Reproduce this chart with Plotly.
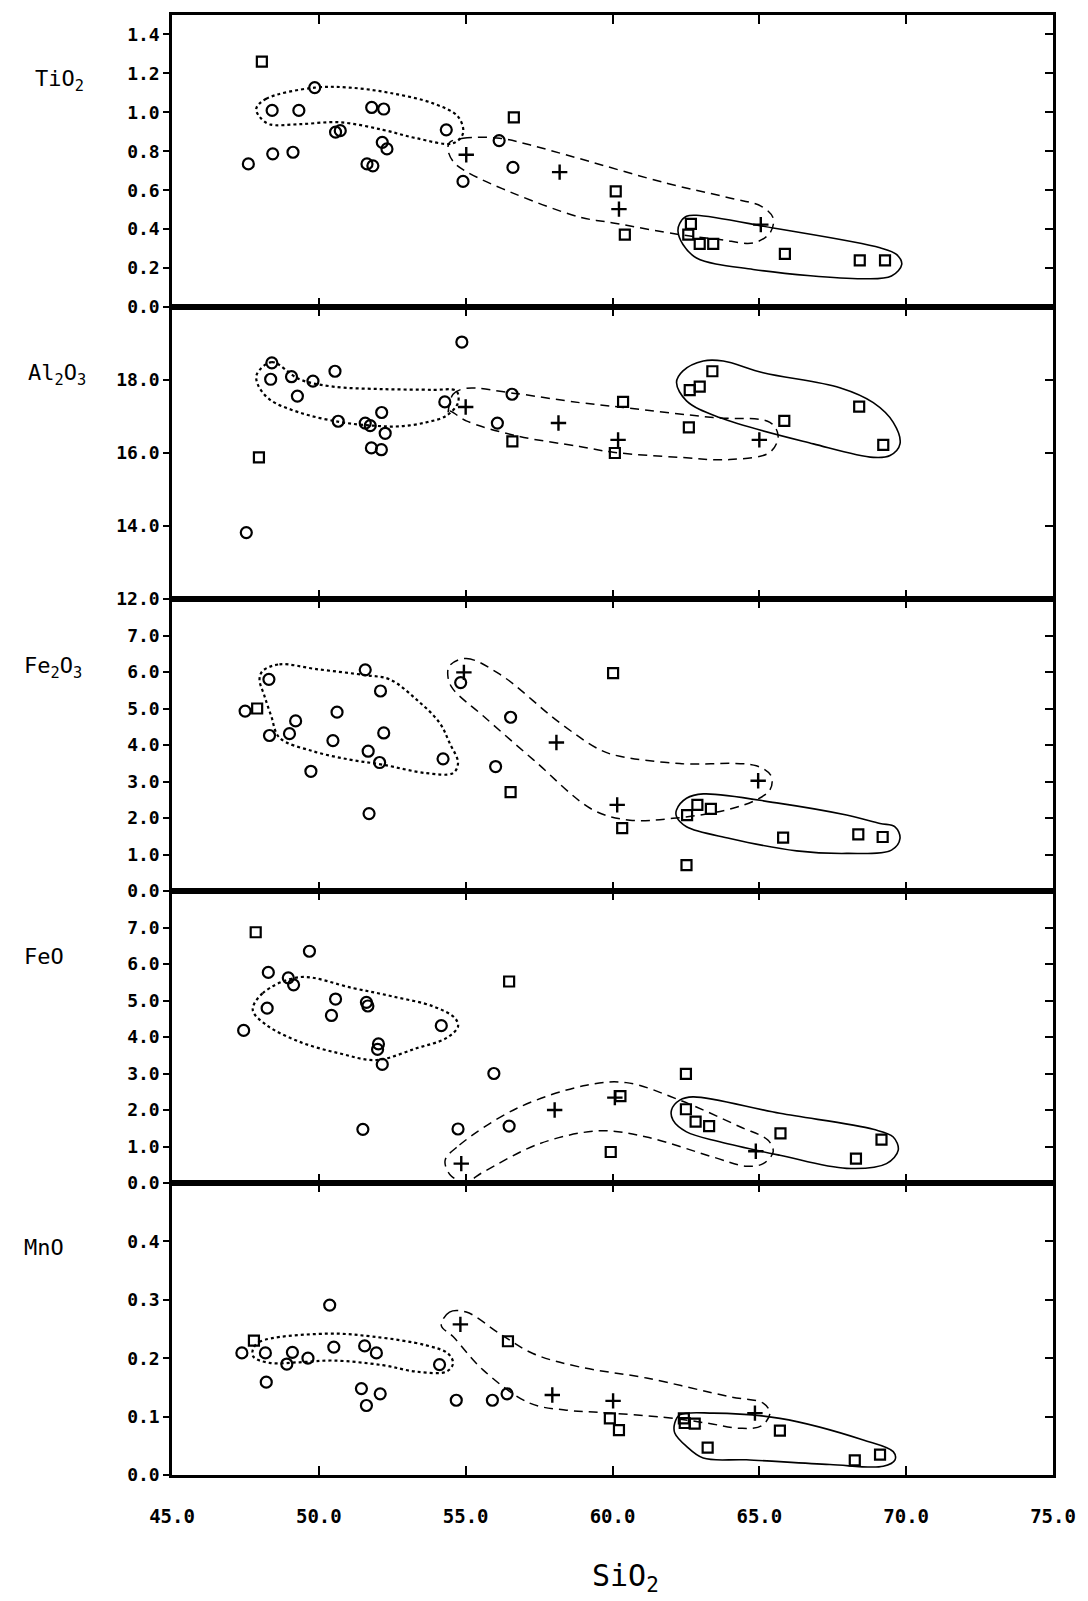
import plotly.graph_objects as go
from plotly.subplots import make_subplots

# ---------------- data (SiO2 on x, oxide on y) ----------------
SIO2_TICKS = [45, 50, 55, 60, 65, 70, 75]

# TiO2
TIO2_CIRC_X = [47.60, 48.41, 48.43, 49.12, 49.32, 49.86, 50.57, 50.73, 51.64, 51.80, 51.84, 52.16, 52.21, 52.32, 54.34, 54.91, 56.14, 56.61]
TIO2_CIRC_Y = [0.735, 1.01, 0.787, 0.795, 1.01, 1.127, 0.898, 0.906, 0.735, 1.025, 0.725, 0.846, 1.017, 0.812, 0.91, 0.645, 0.855, 0.717]
TIO2_SQ_X = [48.06, 56.64, 60.11, 60.42, 62.58, 62.67, 62.97, 63.43, 65.87, 68.42, 69.28]
TIO2_SQ_Y = [1.26, 0.974, 0.594, 0.372, 0.372, 0.427, 0.324, 0.324, 0.273, 0.239, 0.239]
TIO2_PLUS_X = [55.02, 58.20, 60.22, 65.05]
TIO2_PLUS_Y = [0.782, 0.693, 0.503, 0.423]

# Al2O3
AL2O3_CIRC_X = [47.53, 48.36, 48.40, 49.07, 49.27, 49.80, 50.55, 50.66, 51.58, 51.75, 51.79, 52.13, 52.14, 52.26, 54.29, 54.87, 56.08, 56.58]
AL2O3_CIRC_Y = [13.82, 18.02, 18.47, 18.09, 17.56, 17.97, 18.24, 16.87, 16.82, 16.75, 16.14, 16.09, 17.11, 16.54, 17.40, 19.04, 16.82, 17.61]
AL2O3_SQ_X = [47.96, 56.59, 60.08, 60.36, 62.60, 62.63, 62.97, 63.40, 65.85, 68.40, 69.22]
AL2O3_SQ_Y = [15.88, 16.32, 16.00, 17.40, 16.70, 17.72, 17.82, 18.24, 16.88, 17.27, 16.22]
AL2O3_PLUS_X = [55.00, 58.16, 60.19, 65.00]
AL2O3_PLUS_Y = [17.26, 16.82, 16.36, 16.36]

# Fe2O3
FE2O3_CIRC_X = [47.49, 48.30, 48.32, 49.00, 49.21, 49.73, 50.48, 50.62, 51.58, 51.68, 51.71, 52.07, 52.10, 52.21, 54.23, 54.83, 56.02, 56.53]
FE2O3_CIRC_Y = [4.93, 5.80, 4.26, 4.31, 4.66, 3.28, 4.12, 4.90, 6.06, 3.83, 2.12, 3.52, 5.48, 4.33, 3.62, 5.71, 3.41, 4.76]
FE2O3_SQ_X = [47.90, 56.53, 60.02, 60.33, 62.52, 62.54, 62.89, 63.35, 65.81, 68.37, 69.20]
FE2O3_SQ_Y = [5.00, 2.71, 5.97, 1.72, 0.71, 2.08, 2.36, 2.25, 1.46, 1.55, 1.48]
FE2O3_PLUS_X = [54.94, 58.09, 60.16, 64.96]
FE2O3_PLUS_Y = [5.99, 4.07, 2.36, 3.02]

# FeO
FEO_CIRC_X = [47.44, 48.24, 48.28, 48.96, 49.14, 49.68, 50.43, 50.57, 51.50, 51.62, 51.67, 52.00, 52.03, 52.16, 54.17, 54.74, 55.96, 56.48]
FEO_CIRC_Y = [4.18, 4.79, 5.77, 5.62, 5.43, 6.35, 4.59, 5.04, 1.47, 4.95, 4.85, 3.66, 3.81, 3.25, 4.31, 1.48, 3.00, 1.56]
FEO_SQ_X = [47.85, 56.48, 59.94, 60.27, 62.50, 62.50, 62.83, 63.29, 65.72, 68.29, 69.16]
FEO_SQ_Y = [6.87, 5.52, 0.85, 2.38, 2.99, 2.02, 1.68, 1.56, 1.36, 0.67, 1.19]
FEO_PLUS_X = [54.85, 58.03, 60.08, 64.88]
FEO_PLUS_Y = [0.53, 2.00, 2.34, 0.87]

# MnO
MNO_CIRC_X = [47.38, 48.18, 48.21, 48.91, 49.10, 49.63, 50.37, 50.51, 51.45, 51.56, 51.62, 51.96, 52.09, 54.11, 54.68, 55.91, 56.41]
MNO_CIRC_Y = [0.209, 0.209, 0.159, 0.190, 0.210, 0.200, 0.291, 0.219, 0.148, 0.221, 0.119, 0.209, 0.139, 0.189, 0.128, 0.128, 0.139]
MNO_SQ_X = [47.79, 56.44, 59.91, 60.22, 62.43, 62.46, 62.80, 63.24, 65.70, 68.25, 69.11]
MNO_SQ_Y = [0.230, 0.229, 0.097, 0.077, 0.097, 0.089, 0.088, 0.047, 0.076, 0.025, 0.035]
MNO_PLUS_X = [54.82, 57.95, 60.02, 64.85]
MNO_PLUS_Y = [0.258, 0.137, 0.127, 0.106]

# hand-drawn group envelopes (outline vertices, x = SiO2, y = oxide)
TIO2_DOT_X = [47.87, 48.21, 49.86, 51.05, 52.41, 53.89, 54.74, 54.91, 54.57, 53.32, 52.18, 50.71, 49.34, 48.32, 47.98]
TIO2_DOT_Y = [1.02, 1.07, 1.127, 1.127, 1.10, 1.046, 0.978, 0.893, 0.841, 0.867, 0.91, 0.949, 0.939, 0.939, 0.978]
TIO2_DASH_X = [54.45, 54.91, 56.16, 57.18, 58.88, 61.84, 63.99, 65.07, 65.47, 65.36, 64.79, 63.65, 62.29, 60.02, 58.88, 56.61, 55.02, 54.57, 54.40]
TIO2_DASH_Y = [0.845, 0.867, 0.867, 0.833, 0.762, 0.636, 0.56, 0.517, 0.457, 0.38, 0.329, 0.347, 0.372, 0.432, 0.462, 0.585, 0.696, 0.748, 0.807]
TIO2_SOLID_X = [62.52, 62.86, 65.47, 69.11, 69.67, 69.85, 69.50, 68.54, 64.79, 62.86, 62.40, 62.23, 62.29]
TIO2_SOLID_Y = [0.466, 0.471, 0.406, 0.304, 0.27, 0.219, 0.159, 0.145, 0.193, 0.252, 0.321, 0.389, 0.43]

AL2O3_DOT_X = [47.89, 48.40, 49.34, 50.48, 52.18, 53.89, 54.68, 54.74, 54.34, 53.66, 52.75, 51.84, 50.71, 49.34, 48.32, 47.92]
AL2O3_DOT_Y = [18.16, 18.49, 18.02, 17.82, 17.75, 17.73, 17.70, 17.38, 17.02, 16.84, 16.73, 16.75, 16.85, 17.11, 17.47, 17.88]
AL2O3_DASH_X = [54.40, 54.57, 55.02, 56.61, 58.88, 60.36, 63.43, 65.36, 65.64, 65.36, 63.99, 62.29, 60.02, 58.88, 56.73, 55.02, 54.45]
AL2O3_DASH_Y = [17.06, 17.61, 17.77, 17.64, 17.38, 17.25, 16.97, 16.84, 16.47, 16.02, 15.82, 15.88, 16.02, 16.18, 16.47, 16.88, 17.15]
AL2O3_SOLID_X = [62.18, 62.40, 63.09, 63.77, 65.13, 67.74, 68.88, 69.56, 69.79, 69.45, 68.88, 66.84, 63.65, 62.52]
AL2O3_SOLID_Y = [17.93, 18.25, 18.52, 18.52, 18.20, 17.79, 17.38, 16.84, 16.25, 15.93, 15.88, 16.25, 16.97, 17.43]

FE2O3_DOT_X = [48.09, 48.66, 49.91, 51.62, 52.41, 53.32, 54.11, 54.45, 54.74, 54.57, 53.66, 52.18, 51.05, 49.80, 48.66, 48.38, 48.15, 47.98]
FE2O3_DOT_Y = [6.03, 6.21, 6.08, 5.91, 5.80, 5.25, 4.61, 4.06, 3.51, 3.23, 3.23, 3.46, 3.60, 3.83, 4.20, 4.79, 5.34, 5.80]
FE2O3_DASH_X = [54.45, 55.02, 56.16, 58.20, 59.57, 60.25, 62.29, 64.90, 65.41, 65.36, 64.90, 63.88, 62.06, 60.59, 59.34, 57.30, 55.59, 54.57, 54.40]
FE2O3_DASH_Y = [6.17, 6.37, 5.94, 4.61, 3.87, 3.69, 3.49, 3.43, 3.14, 2.77, 2.50, 2.22, 1.99, 1.94, 2.22, 3.60, 4.80, 5.53, 5.85]
FE2O3_SOLID_X = [62.18, 62.52, 63.09, 65.70, 67.97, 69.11, 69.62, 69.79, 69.50, 67.97, 66.27, 64.00, 62.52, 62.18]
FE2O3_SOLID_Y = [2.22, 2.54, 2.66, 2.40, 2.08, 1.85, 1.76, 1.44, 1.12, 1.03, 1.10, 1.44, 1.76, 2.04]

FEO_DOT_X = [47.75, 48.09, 49.34, 51.16, 52.52, 53.89, 54.63, 54.74, 54.34, 53.32, 51.96, 50.71, 49.34, 48.21]
FEO_DOT_Y = [4.74, 5.20, 5.64, 5.34, 5.11, 4.84, 4.52, 4.29, 3.97, 3.69, 3.37, 3.55, 3.87, 4.33]
FEO_DASH_X = [54.30, 54.79, 56.73, 59.11, 60.47, 62.29, 64.34, 65.30, 65.47, 65.13, 64.56, 63.43, 61.16, 59.57, 57.52, 55.60, 55.00, 54.50]
FEO_DASH_Y = [0.62, 1.04, 2.04, 2.68, 2.75, 2.27, 1.54, 1.17, 0.85, 0.53, 0.46, 0.71, 1.26, 1.43, 1.08, 0.30, 0.03, 0.20]
FEO_SOLID_X = [62.01, 62.29, 62.74, 65.70, 68.88, 69.56, 69.73, 69.33, 67.97, 65.70, 63.65, 62.52, 62.06]
FEO_SOLID_Y = [2.00, 2.27, 2.36, 1.91, 1.47, 1.26, 0.90, 0.53, 0.40, 0.76, 1.13, 1.40, 1.72]

MNO_DOT_X = [47.75, 47.98, 50.25, 51.84, 53.66, 54.40, 54.57, 54.34, 53.32, 52.18, 50.48, 49.34, 48.32, 47.78]
MNO_DOT_Y = [0.214, 0.228, 0.242, 0.237, 0.222, 0.208, 0.191, 0.177, 0.177, 0.188, 0.196, 0.193, 0.192, 0.202]
MNO_DASH_X = [54.17, 54.45, 55.02, 56.16, 57.29, 58.88, 61.16, 63.99, 65.13, 65.36, 65.07, 64.34, 63.20, 61.72, 59.57, 58.43, 57.18, 55.59, 54.57]
MNO_DASH_Y = [0.256, 0.279, 0.279, 0.242, 0.208, 0.185, 0.166, 0.134, 0.123, 0.106, 0.084, 0.080, 0.089, 0.099, 0.107, 0.111, 0.123, 0.180, 0.237]
MNO_SOLID_X = [62.12, 62.29, 63.43, 65.70, 68.54, 69.56, 69.62, 69.22, 67.40, 64.56, 63.09, 62.52, 62.12]
MNO_SOLID_Y = [0.089, 0.103, 0.106, 0.097, 0.060, 0.040, 0.026, 0.015, 0.018, 0.026, 0.029, 0.049, 0.072]

# axis ranges / tick values
TIO2_RANGE, TIO2_TICKS = [0, 1.5], [0, 0.2, 0.4, 0.6, 0.8, 1.0, 1.2, 1.4]
AL2O3_RANGE, AL2O3_TICKS = [12, 20], [12, 14, 16, 18]
FE2O3_RANGE, FE2O3_TICKS = [0, 8], [0, 1, 2, 3, 4, 5, 6, 7]
FEO_RANGE, FEO_TICKS = [0, 8], [0, 1, 2, 3, 4, 5, 6, 7]
MNO_RANGE, MNO_TICKS = [0, 0.5], [0, 0.1, 0.2, 0.3, 0.4]

PANELS = [
    dict(label="TiO<sub>2</sub>", rng=TIO2_RANGE, ticks=TIO2_TICKS,
         circ=(TIO2_CIRC_X, TIO2_CIRC_Y), sq=(TIO2_SQ_X, TIO2_SQ_Y), plus=(TIO2_PLUS_X, TIO2_PLUS_Y),
         dot=(TIO2_DOT_X, TIO2_DOT_Y), dash=(TIO2_DASH_X, TIO2_DASH_Y), solid=(TIO2_SOLID_X, TIO2_SOLID_Y)),
    dict(label="Al<sub>2</sub>O<sub>3</sub>", rng=AL2O3_RANGE, ticks=AL2O3_TICKS,
         circ=(AL2O3_CIRC_X, AL2O3_CIRC_Y), sq=(AL2O3_SQ_X, AL2O3_SQ_Y), plus=(AL2O3_PLUS_X, AL2O3_PLUS_Y),
         dot=(AL2O3_DOT_X, AL2O3_DOT_Y), dash=(AL2O3_DASH_X, AL2O3_DASH_Y), solid=(AL2O3_SOLID_X, AL2O3_SOLID_Y)),
    dict(label="Fe<sub>2</sub>O<sub>3</sub>", rng=FE2O3_RANGE, ticks=FE2O3_TICKS,
         circ=(FE2O3_CIRC_X, FE2O3_CIRC_Y), sq=(FE2O3_SQ_X, FE2O3_SQ_Y), plus=(FE2O3_PLUS_X, FE2O3_PLUS_Y),
         dot=(FE2O3_DOT_X, FE2O3_DOT_Y), dash=(FE2O3_DASH_X, FE2O3_DASH_Y), solid=(FE2O3_SOLID_X, FE2O3_SOLID_Y)),
    dict(label="FeO", rng=FEO_RANGE, ticks=FEO_TICKS,
         circ=(FEO_CIRC_X, FEO_CIRC_Y), sq=(FEO_SQ_X, FEO_SQ_Y), plus=(FEO_PLUS_X, FEO_PLUS_Y),
         dot=(FEO_DOT_X, FEO_DOT_Y), dash=(FEO_DASH_X, FEO_DASH_Y), solid=(FEO_SOLID_X, FEO_SOLID_Y)),
    dict(label="MnO", rng=MNO_RANGE, ticks=MNO_TICKS,
         circ=(MNO_CIRC_X, MNO_CIRC_Y), sq=(MNO_SQ_X, MNO_SQ_Y), plus=(MNO_PLUS_X, MNO_PLUS_Y),
         dot=(MNO_DOT_X, MNO_DOT_Y), dash=(MNO_DASH_X, MNO_DASH_Y), solid=(MNO_SOLID_X, MNO_SOLID_Y)),
]

FONT = "DejaVu Sans Mono, Liberation Mono, monospace"
INK = "black"

fig = make_subplots(rows=5, cols=1, shared_xaxes=True, vertical_spacing=0)


def closed(xs, ys):
    return list(xs) + [xs[0]], list(ys) + [ys[0]]


for i, p in enumerate(PANELS, start=1):
    # envelopes
    for key, dash, width in (("dot", "dot", 2.2), ("dash", "9px,6px", 1.5), ("solid", "solid", 1.6)):
        cx, cy = closed(*p[key])
        fig.add_trace(go.Scatter(x=cx, y=cy, mode="lines",
                                 line=dict(color=INK, width=width, dash=dash, shape="spline", smoothing=1.0),
                                 hoverinfo="skip", showlegend=False), row=i, col=1)
    # markers
    fig.add_trace(go.Scatter(x=p["circ"][0], y=p["circ"][1], mode="markers",
                             marker=dict(symbol="circle-open", size=11, color=INK, line=dict(width=2.2, color=INK)),
                             showlegend=False), row=i, col=1)
    fig.add_trace(go.Scatter(x=p["sq"][0], y=p["sq"][1], mode="markers",
                             marker=dict(symbol="square-open", size=10, color=INK, line=dict(width=2.2, color=INK)),
                             showlegend=False), row=i, col=1)
    fig.add_trace(go.Scatter(x=p["plus"][0], y=p["plus"][1], mode="markers",
                             marker=dict(symbol="cross-thin-open", size=11, color=INK, line=dict(width=2.4, color=INK)),
                             showlegend=False), row=i, col=1)

    xname = "xaxis" if i == 1 else f"xaxis{i}"
    yname = "yaxis" if i == 1 else f"yaxis{i}"
    fig.layout[xname].update(
        range=[45, 75], tickvals=SIO2_TICKS, ticktext=[f"{v:.1f}" for v in SIO2_TICKS],
        ticks="inside", ticklen=9, tickwidth=2, tickcolor=INK,
        showline=True, linewidth=2.5, linecolor=INK, mirror="ticks",
        showgrid=False, zeroline=False, showticklabels=(i == 5),
        ticklabelstandoff=22,
        tickfont=dict(family=FONT, size=19, color=INK, weight="bold"),
    )
    fig.layout[yname].update(
        range=p["rng"], tickvals=p["ticks"], ticktext=[f"{v:.1f}" for v in p["ticks"]],
        ticks="outside", ticklen=6, tickwidth=2, tickcolor=INK,
        showline=True, linewidth=2.5, linecolor=INK, mirror=True,
        showgrid=False, zeroline=False,
        tickfont=dict(family=FONT, size=18, color=INK, weight="bold"),
    )
    # right-hand inward ticks via overlaying axis
    ov = i + 5
    xref = "x" if i == 1 else f"x{i}"
    yref = "y" if i == 1 else f"y{i}"
    fig.layout[f"yaxis{ov}"] = dict(
        overlaying=yref, side="right", anchor=xref, range=p["rng"], tickvals=p["ticks"],
        ticks="inside", ticklen=8, tickwidth=2, tickcolor=INK,
        showticklabels=False, showline=False, showgrid=False, zeroline=False,
    )
    fig.add_trace(go.Scatter(x=[None], y=[None], xaxis=xref, yaxis=f"y{ov}",
                             mode="markers", showlegend=False, hoverinfo="skip"))

# panel labels
LABEL_POS = [(-0.158, 0.955), (-0.166, 0.754), (-0.170, 0.553), (-0.170, 0.355), (-0.170, 0.156)]
for p, (lx, ly) in zip(PANELS, LABEL_POS):
    fig.add_annotation(text=p["label"], xref="paper", yref="paper", x=lx, y=ly,
                       xanchor="left", yanchor="middle", showarrow=False,
                       font=dict(family=FONT, size=22, color=INK))

fig.add_annotation(text="SiO<sub>2</sub>", xref="paper", yref="paper", x=0.515, y=-0.070,
                   xanchor="center", yanchor="middle", showarrow=False,
                   font=dict(family=FONT, size=30, color=INK))

fig.update_layout(
    width=1088, height=1601,
    margin=dict(l=172, r=35, t=13, b=126),
    plot_bgcolor="white", paper_bgcolor="white",
    showlegend=False,
)

fig.write_html("out.html", config={"displayModeBar": False},
               post_script="document.body.style.margin='0';document.body.style.padding='0';")
